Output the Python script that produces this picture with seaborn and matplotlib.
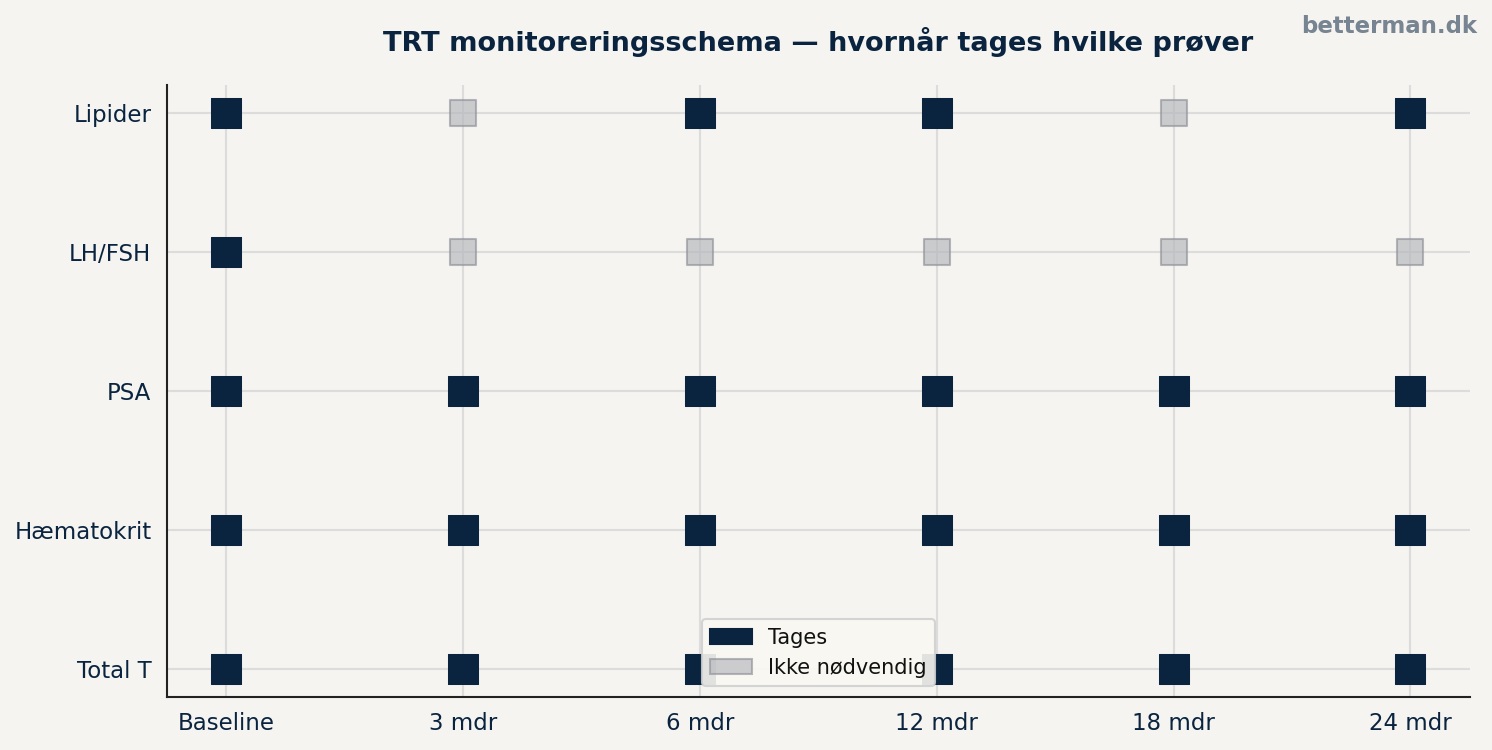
import pandas as pd
import seaborn as sns
import matplotlib.pyplot as plt
from matplotlib.patches import Patch

# Data
timepoints = ["Baseline", "3 mdr", "6 mdr", "12 mdr", "18 mdr", "24 mdr"]
tests = ["Total T", "Hæmatokrit", "PSA", "LH/FSH", "Lipider"]
total_t = [1, 1, 1, 1, 1, 1]
haematokrit = [1, 1, 1, 1, 1, 1]
psa = [1, 1, 1, 1, 1, 1]
lh_fsh = [1, 0, 0, 0, 0, 0]
lipider = [1, 0, 1, 1, 0, 1]

NAVY = "#0a2440"
GREY = "#b4b6bb"
BG = "#f5f4f0"

rows = []
for yi, (name, vals) in enumerate(zip(tests, [total_t, haematokrit, psa, lh_fsh, lipider])):
    for xi, v in enumerate(vals):
        rows.append({"x": xi, "y": yi, "taken": v})
df = pd.DataFrame(rows)

sns.set_style("white")
plt.rcParams["font.family"] = ["DejaVu Sans"]

fig, ax = plt.subplots(figsize=(9.947, 5.0), dpi=150)
fig.patch.set_facecolor(BG)
ax.set_facecolor(BG)
fig.subplots_adjust(left=0.112, right=0.985, top=0.887, bottom=0.071)

taken = df[df["taken"] == 1]
skip = df[df["taken"] == 0]
sns.scatterplot(data=taken, x="x", y="y", marker="s", s=220, color=NAVY,
                edgecolor=NAVY, linewidth=0.5, legend=False, ax=ax, zorder=3)
sns.scatterplot(data=skip, x="x", y="y", marker="s", s=165, color=GREY,
                edgecolor="#8f929a", linewidth=1.0, alpha=0.65, legend=False,
                ax=ax, zorder=3)

ax.set_xticks(range(len(timepoints)))
ax.set_xticklabels(timepoints)
ax.set_yticks(range(len(tests)))
ax.set_yticklabels(tests)
ax.tick_params(axis="both", labelsize=11, labelcolor=NAVY, length=4, color="#222222")
ax.grid(True, color="#dcdcdc", linewidth=1.0, zorder=0)
ax.set_axisbelow(True)
ax.set_xlabel("")
ax.set_ylabel("")
sns.despine(ax=ax)
for side in ["left", "bottom"]:
    ax.spines[side].set_color("#222222")
    ax.spines[side].set_linewidth(1.0)

ax.set_title("TRT monitoreringsschema — hvornår tages hvilke prøver",
             fontsize=13, fontweight="bold", color=NAVY, pad=16)
fig.text(0.99, 0.965, "betterman.dk", ha="right", va="center",
         fontsize=11, fontweight="bold", color="#778491")

handles = [Patch(facecolor=NAVY, edgecolor=NAVY, label="Tages"),
           Patch(facecolor=GREY, edgecolor="#8f929a", alpha=0.65, label="Ikke nødvendig")]
leg = ax.legend(handles=handles, loc="lower center", fontsize=10,
                frameon=True, facecolor="#faf8f3", edgecolor="#d0d0d0")
leg.get_frame().set_alpha(0.9)
for t in leg.get_texts():
    t.set_color("#111111")

fig.savefig("out.png", dpi=150, facecolor=BG)
